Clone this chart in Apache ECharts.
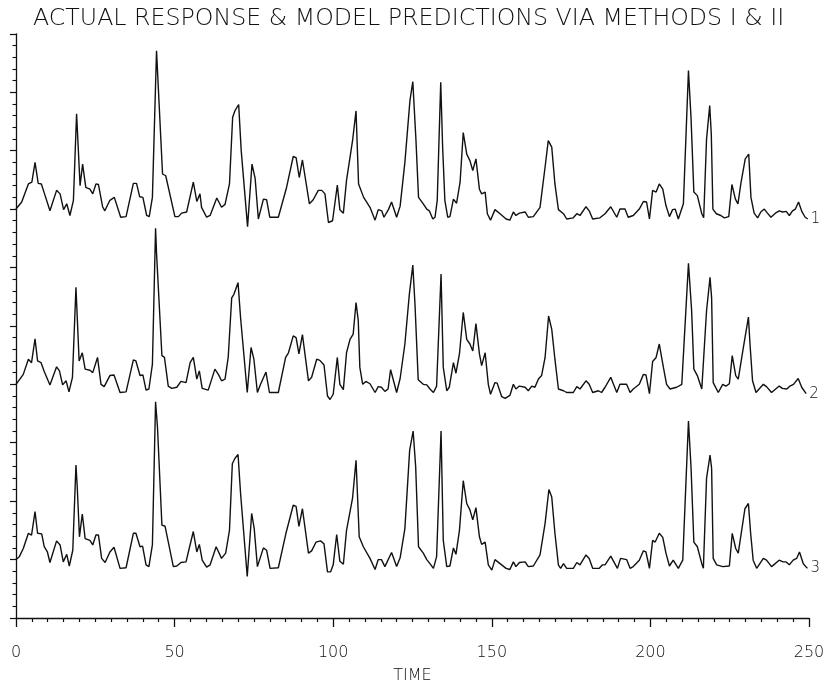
<!DOCTYPE html>
<html>
<head>
<meta charset="utf-8">
<script src="https://cdn.jsdelivr.net/npm/echarts@6/dist/echarts.min.js"></script>
<style>
  html, body { margin: 0; padding: 0; background: #ffffff; }
  #chart { width: 826px; height: 685px; }
</style>
</head>
<body>
<div id="chart"></div>
<script>
// Title / axis text
const chartTitle = 'ACTUAL RESPONSE & MODEL PREDICTIONS VIA METHODS I & II';
const xAxisName = 'TIME';
const xTicks = [0, 50, 100, 150, 200, 250];
const seriesNames = ['1', '2', '3'];

// Series 1: actual response (plotted with display offset, [time, value])
const response1 = [[0,7.00],[1.8,7.12],[3.9,7.43],[5,7.46],[6,7.80],[7,7.44],[8,7.43],[9,7.26],[10.7,6.97],[12.8,7.32],
[13.9,7.26],[15,6.99],[16,7.09],[17,6.89],[18.1,7.15],[19.1,8.63],[20.2,7.40],[21,7.77],[22,7.37],[23.3,7.34],
[24.2,7.26],[25.2,7.43],[26,7.42],[27.3,7.04],[28,6.97],[29.6,7.15],[31,7.20],[33,6.86],[34.7,6.87],[37,7.44],
[38,7.44],[39,7.21],[40,7.20],[41.2,6.89],[42,6.87],[43,7.20],[44.3,9.71],[46.2,7.60],[47.2,7.57],[50.1,6.87],
[51.2,6.87],[52.2,6.93],[53.8,6.95],[55.9,7.46],[57,7.13],[58,7.26],[58.5,7.03],[60.1,6.86],[61.2,6.89],[63.3,7.19],
[64.8,7.03],[65.9,7.08],[67.3,7.43],[68.3,8.57],[69,8.68],[70.2,8.79],[71,8.00],[73,6.70],[74.4,7.77],[75.4,7.52],
[76.4,6.83],[78,7.17],[79,7.16],[80,6.86],[82.7,6.86],[85.3,7.37],[87.4,7.90],[88.3,7.88],[89.3,7.54],[90.3,7.84],
[92.5,7.09],[93.7,7.16],[95.3,7.32],[96.4,7.32],[97.4,7.26],[98.5,6.77],[99.8,6.80],[101.3,7.41],[102.1,6.99],[103.2,6.93],
[104.2,7.49],[106.1,8.17],[107.2,8.68],[108,7.43],[109.6,7.20],[111.6,7.03],[113.2,6.81],[114.2,6.99],[115.3,6.97],[116,6.86],
[117.4,6.99],[118.4,7.12],[120,6.86],[121.1,7.05],[122.6,7.80],[124.2,8.86],[125.1,9.18],[126.1,8.17],[126.9,7.20],[128.4,7.09],
[129.5,7.00],[130.3,6.97],[131.4,6.83],[132.1,6.86],[132.8,7.15],[133.9,9.17],[134.5,8.06],[135.2,7.15],[136.1,6.86],[136.8,6.87],
[137.9,7.17],[138.9,7.10],[140,7.46],[141,8.31],[142.1,7.94],[143.1,7.83],[144,7.66],[145,7.86],[146.1,7.34],[146.8,7.26],
[147.9,7.29],[148.6,6.92],[149.6,6.81],[151,6.99],[152.6,6.92],[154.5,6.83],[155.7,6.81],[156.8,6.95],[157.6,6.89],[158.7,6.93],
[160.5,6.95],[161.5,6.86],[163.1,6.87],[165.2,7.03],[166.8,7.72],[167.8,8.17],[168.9,8.06],[169.9,7.43],[171,6.99],[172.6,6.92],
[173.6,6.83],[175.7,6.85],[176.8,6.92],[177.8,6.89],[179.7,7.04],[180.7,6.97],[181.8,6.83],[184.1,6.85],[185.7,6.92],[187.5,7.04],
[189.4,6.86],[190.4,7.00],[192,7.00],[193,6.86],[194.6,6.89],[196.5,7.00],[197.8,7.13],[198.8,7.12],[199.7,6.83],[200.7,7.32],
[201.8,7.29],[202.8,7.43],[203.9,7.34],[204.9,7.06],[206,6.87],[207,6.99],[207.8,7.00],[208.8,6.83],[210.4,7.09],[212,9.37],
[212.8,8.57],[213.7,7.29],[214.8,7.23],[216.2,6.92],[216.8,6.85],[217.7,8.20],[218.7,8.77],[219.2,8.28],[219.7,7.00],[220.8,6.92],
[222.2,6.89],[223.3,6.85],[224.7,6.87],[225.7,7.42],[226.8,7.17],[227.6,7.09],[228.5,7.43],[229.9,7.86],[231,7.94],[231.7,7.20],
[232.7,6.93],[233.8,6.85],[234.8,6.95],[235.9,7.00],[236.9,6.93],[238,6.86],[239.4,6.93],[240.6,6.97],[241.7,6.95],[242.8,6.96],
[243.8,6.89],[244.8,6.97],[245.7,7.00],[246.7,7.12],[247.8,6.95],[248.8,6.86],[249.6,6.83]];

// Series 2: model prediction, method I
const prediction1 = [[0,4.00],[2.3,4.17],[3.9,4.43],[4.9,4.37],[6,4.78],[6.8,4.40],[7.9,4.37],[8.9,4.22],[10.7,3.99],[12.8,4.30],
[13.7,4.23],[14.7,3.99],[15.8,4.06],[16.7,3.87],[17.8,4.12],[18.9,5.66],[19.9,4.40],[20.9,4.54],[21.8,4.26],[23.3,4.24],
[24.2,4.20],[25.7,4.46],[26.8,4.00],[27.8,3.96],[29.6,4.15],[30.9,4.16],[32.8,3.86],[34.7,3.87],[37,4.42],[37.8,4.40],
[39.1,4.15],[40,4.16],[41,3.90],[41.9,3.92],[43,4.34],[44,6.67],[44.3,6.25],[46,4.49],[46.8,4.46],[48,3.97],
[49.1,3.93],[50.7,3.95],[52,4.05],[53.6,4.03],[54.9,4.37],[55.9,4.46],[57,4.09],[57.8,4.23],[58.7,3.93],[60.6,3.90],
[62.7,4.26],[63.8,4.17],[64.8,4.06],[65.9,4.09],[66.9,4.46],[68,5.48],[68.7,5.54],[70,5.74],[70.8,5.14],[72.9,3.86],
[74.1,4.63],[75,4.43],[76.1,3.86],[77.1,4.00],[78.8,4.21],[79.9,3.86],[82.7,3.86],[85,4.46],[85.9,4.54],[87.4,4.83],
[88.3,4.80],[89.2,4.52],[90.3,4.85],[92.2,4.06],[93.2,4.12],[94.8,4.43],[95.8,4.41],[97.1,4.33],[98.2,3.80],[99,3.74],
[100,3.83],[101.3,4.46],[102.1,4.00],[103.2,3.91],[104.2,4.54],[105.3,4.77],[106.3,4.86],[107.2,5.40],[107.9,5.09],[108.4,4.29],
[109.3,4.00],[110.3,4.05],[111.6,4.01],[113.2,3.86],[114.2,3.96],[115.2,3.95],[116.3,3.88],[117.3,3.92],[118.1,4.25],[120,3.86],
[121.1,4.10],[122.6,4.69],[124,5.54],[125.1,6.04],[125.8,5.35],[126.8,4.08],[128.4,4.00],[129.5,3.99],[130.5,3.92],[131.6,3.86],
[132.6,3.97],[134,5.89],[134.7,4.29],[135.8,3.89],[136.6,3.95],[137.9,4.37],[138.7,4.19],[139.8,4.52],[141,5.23],[142.1,4.77],
[143.1,4.69],[144,4.57],[145,5.04],[146.1,4.52],[146.8,4.32],[147.9,4.54],[148.9,4.00],[149.6,3.83],[151,4.03],[151.7,4.02],
[153.1,3.79],[154.2,3.76],[155.7,3.81],[156.8,4.00],[157.6,3.92],[158.7,3.97],[160.5,3.95],[161.5,3.89],[162.6,3.97],[163.6,3.95],
[164.7,4.09],[165.7,4.15],[166.8,4.46],[167.9,5.17],[168.9,4.94],[169.9,4.43],[171,3.92],[172.6,3.89],[173.6,3.86],[175.7,3.86],
[176.8,3.96],[177.8,3.92],[179.7,4.06],[180.7,4.00],[181.8,3.86],[183.6,3.89],[184.6,3.86],[185.7,3.95],[187.5,4.12],[189.4,3.86],
[190.4,4.00],[192.5,4.00],[193.6,3.86],[194.6,3.92],[196.5,4.00],[197.8,4.17],[198.6,4.16],[199.7,3.84],[200.7,4.39],[201.8,4.46],
[202.8,4.69],[204.1,4.29],[205.1,4.00],[206.2,3.92],[208.3,3.95],[209.9,4.00],[212,6.07],[213,5.26],[213.7,4.26],[214.8,4.15],
[216.2,3.92],[216.7,3.93],[217.7,5.26],[218.8,5.83],[219.3,5.48],[219.8,4.03],[221.4,3.86],[222.8,4.00],[223.8,3.97],[224.9,4.01],
[225.8,4.49],[226.9,4.15],[227.7,4.09],[229.3,4.63],[230.9,5.15],[231.4,4.69],[232.2,4.06],[233.3,3.86],[235.6,4.00],[236.6,3.96],
[238.2,3.86],[240.6,3.97],[241.6,3.93],[243,3.92],[244,3.97],[245.1,4.00],[246.6,4.10],[247.7,3.95],[249.1,3.84]];

// Series 3: model prediction, method II
const prediction2 = [[0,1.00],[1.05,1.05],[2.3,1.19],[3.9,1.45],[4.9,1.42],[6,1.82],[6.8,1.45],[8.1,1.44],[8.9,1.22],[9.9,1.13],
[10.7,0.95],[12.8,1.32],[13.9,1.25],[14.9,0.96],[16,1.09],[16.8,0.89],[17.9,1.16],[18.9,2.62],[19.3,2.25],[20,1.39],
[20.9,1.78],[21.8,1.36],[23.3,1.33],[24.2,1.25],[25.2,1.42],[26,1.42],[27,1.02],[28.1,0.95],[29.6,1.13],[30.9,1.21],
[32.8,0.85],[34.7,0.86],[37,1.45],[37.8,1.45],[39.1,1.22],[39.9,1.23],[41,0.91],[41.9,0.88],[43,1.25],[44,3.70],
[44.6,3.27],[46,1.59],[47,1.57],[49.6,0.88],[50.7,0.89],[52,0.95],[53.6,0.96],[54.6,1.19],[55.9,1.48],[57,1.13],
[57.8,1.26],[58.7,0.99],[60.1,0.87],[61.2,0.91],[63.1,1.22],[64.8,1.02],[66.1,1.11],[67.3,1.50],[68.2,2.64],[69,2.73],
[70,2.80],[70.8,2.13],[72.9,0.71],[74.3,1.79],[75.1,1.53],[76.1,0.88],[78,1.20],[79,1.16],[80.1,0.85],[82.7,0.86],
[85.1,1.45],[87.4,1.93],[88.3,1.91],[89.2,1.57],[90.3,1.87],[92.2,1.11],[93.2,1.15],[94.6,1.30],[96,1.32],[97.1,1.27],
[98.2,0.79],[99.2,0.79],[100,0.91],[101.1,1.43],[102.1,0.97],[103.2,0.92],[104.2,1.50],[106.1,2.05],[107.2,2.70],[108.2,1.39],
[109.5,1.22],[111.6,1.02],[113.2,0.83],[114.2,1.00],[115.2,1.00],[116.3,0.88],[118.4,1.12],[120,0.88],[121.1,1.03],[122.6,1.53],
[124.1,2.87],[125.2,3.20],[126,2.59],[126.9,1.22],[128.4,1.11],[129.5,1.00],[130.5,0.93],[131.6,0.85],[132.6,1.05],[134,3.20],
[134.7,1.33],[135.8,0.88],[136.8,0.89],[137.9,1.20],[138.7,1.09],[139.8,1.50],[141,2.35],[142.1,1.96],[143.1,1.85],[144,1.68],
[145,1.89],[146.1,1.39],[146.8,1.26],[147.9,1.30],[148.9,0.91],[150,0.82],[151,1.00],[152.6,0.93],[154.5,0.85],[155.7,0.83],
[156.8,0.96],[157.6,0.88],[158.7,0.95],[160.5,0.96],[161.5,0.88],[163.1,0.89],[165.2,1.08],[166.8,1.62],[168,2.20],[168.9,2.07],
[169.9,1.45],[171,0.91],[171.7,0.85],[172.6,0.93],[173.6,0.85],[175.7,0.85],[176.8,0.95],[177.8,0.91],[179.7,1.08],[180.7,1.02],
[181.8,0.85],[183.9,0.85],[184.9,0.91],[185.7,0.91],[187.5,1.06],[189.6,0.85],[190.6,1.02],[192.5,1.00],[193.6,0.85],[194.6,0.88],
[196.5,0.99],[197.8,1.15],[198.6,1.13],[199.7,0.85],[200.7,1.33],[201.5,1.30],[202.8,1.45],[203.9,1.38],[204.9,1.11],[206,0.89],
[207.2,0.99],[207.8,1.02],[208.8,0.85],[210.2,0.99],[212,3.37],[212.8,2.59],[213.7,1.30],[214.8,1.22],[216.2,0.93],[216.7,0.85],
[217.7,2.39],[218.8,2.79],[219.3,2.56],[219.8,1.02],[220.9,0.91],[222.8,0.88],[224.9,0.89],[225.8,1.45],[226.9,1.19],[227.7,1.11],
[229.8,1.87],[230.9,1.96],[231.6,1.45],[232.4,0.99],[233.5,0.85],[235.6,1.02],[236.6,0.99],[238.2,0.88],[240.6,0.99],[241.8,0.96],
[242.8,0.96],[243.8,0.91],[245,0.99],[246.1,1.02],[247,1.13],[248.2,0.93],[249.5,0.85]];

const FONT = '"DejaVu Sans", sans-serif';
const INK = '#111111';

const chart = echarts.init(document.getElementById('chart'), null, { renderer: 'canvas' });

function lineSeries(name, data) {
  return {
    name: name,
    type: 'line',
    data: data,
    showSymbol: false,
    symbol: 'none',
    silent: true,
    animation: false,
    lineStyle: { color: INK, width: 1.4 },
    endLabel: {
      show: true,
      formatter: name,
      color: INK,
      fontFamily: FONT,
      fontWeight: 200,
      fontSize: 15,
      distance: 3
    }
  };
}

chart.setOption({
  backgroundColor: '#ffffff',
  animation: false,
  title: {
    text: chartTitle,
    left: 28,
    top: 2,
    textStyle: { color: INK, fontFamily: FONT, fontWeight: 200, fontSize: 23.7 }
  },
  grid: { left: 16, right: 17, top: 33.8, bottom: 67, containLabel: false, outerBoundsMode: 'none' },
  xAxis: {
    type: 'value',
    min: 0,
    max: 250,
    interval: 50,
    name: xAxisName,
    nameLocation: 'middle',
    nameGap: 50,
    nameTextStyle: { color: INK, fontFamily: FONT, fontWeight: 200, fontSize: 16 },
    axisLine: { show: true, onZero: false, lineStyle: { color: INK, width: 1.3 } },
    axisTick: { show: true, length: 9, lineStyle: { color: INK, width: 1.3 } },
    minorTick: { show: true, splitNumber: 10, length: 4, lineStyle: { color: INK, width: 1.2 } },
    axisLabel: {
      color: INK, fontFamily: FONT, fontWeight: 200, fontSize: 16, margin: 27,
      formatter: function (v) { return xTicks.indexOf(v) >= 0 ? String(v) : ''; }
    },
    splitLine: { show: false },
    minorSplitLine: { show: false }
  },
  yAxis: {
    type: 'value',
    min: 0,
    max: 10,
    interval: 1,
    axisLine: { show: true, onZero: false, lineStyle: { color: INK, width: 1.3 } },
    axisTick: { show: true, length: 6, lineStyle: { color: INK, width: 1.2 } },
    minorTick: { show: true, splitNumber: 5, length: 3.5, lineStyle: { color: INK, width: 1.1 } },
    axisLabel: { show: false },
    splitLine: { show: false },
    minorSplitLine: { show: false }
  },
  series: [
    lineSeries(seriesNames[0], response1),
    lineSeries(seriesNames[1], prediction1),
    lineSeries(seriesNames[2], prediction2)
  ]
});
</script>
</body>
</html>
